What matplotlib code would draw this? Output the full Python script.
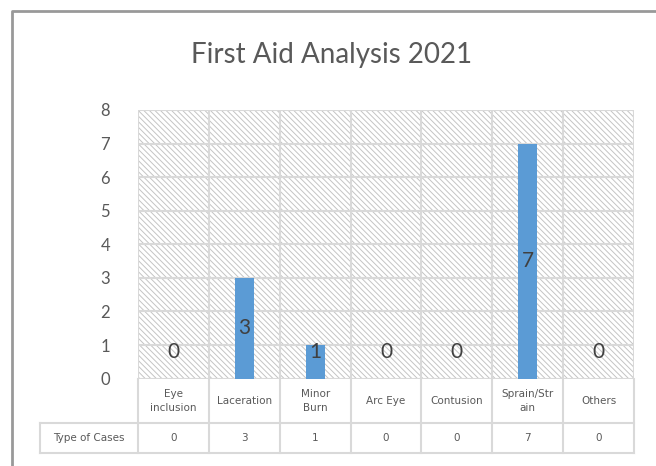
import matplotlib
matplotlib.use("Agg")
import matplotlib.pyplot as plt
from matplotlib.patches import Rectangle
from matplotlib.lines import Line2D
import matplotlib.transforms as mtransforms

title = "First Aid Analysis 2021"
categories = ["Eye\ninclusion", "Laceration", "Minor\nBurn", "Arc Eye", "Contusion", "Sprain/Str\nain", "Others"]
series_name = "Type of Cases"
values = [0, 3, 1, 0, 0, 7, 0]
yticks = [0, 1, 2, 3, 4, 5, 6, 7, 8]

W, H = 656, 466
fig = plt.figure(figsize=(W / 100, H / 100), dpi=100)
fig.patch.set_facecolor("white")

ax_l, ax_r, ax_t, ax_b = 138, 634, 110, 378.6
ax = fig.add_axes([ax_l / W, 1 - ax_b / H, (ax_r - ax_l) / W, (ax_b - ax_t) / H])

grid_c = "#d9d9d9"
text_c = "#595959"
font = "Lato"

n = len(categories)
x = list(range(n))
ax.set_xlim(-0.5, n - 0.5)
ax.set_ylim(0, 8)

# hatched background
plt.rcParams["hatch.linewidth"] = 0.7
bg = Rectangle((0, 0), 1, 1, transform=ax.transAxes, facecolor="white",
               edgecolor="#c4c4c4", hatch="\\\\\\\\\\\\", linewidth=0, zorder=0)
ax.add_patch(bg)

# gridlines
for yv in yticks:
    ax.axhline(yv, color=grid_c, linewidth=1.5, zorder=1)
for i in range(n + 1):
    ax.axvline(i - 0.5, color=grid_c, linewidth=1.5, zorder=1)

ax.bar(x, values, width=0.27, color="#5B9BD5", zorder=2)

for xi, v in zip(x, values):
    ax.text(xi, max(v / 2, 0.79), str(v), ha="center", va="center",
            fontsize=15, color="#404040", family=font, zorder=3)

for s in ax.spines.values():
    s.set_visible(False)
ax.set_xticks([])
ax.set_yticks(yticks)
ax.set_yticklabels([str(t) for t in yticks], fontsize=12, color=text_c, family=font)
ax.tick_params(axis="y", length=0, pad=20)

# data table under the axis
trans = mtransforms.blended_transform_factory(ax.transData, ax.transAxes)
axh = ax_b - ax_t
y_head = -(423 - ax_b) / axh
y_bot = -(453 - ax_b) / axh
x_lab = -0.5 - (ax_l - 40) / ((ax_r - ax_l) / n)

def seg(xs, ys):
    ax.add_line(Line2D(xs, ys, transform=trans, color=grid_c, linewidth=1.5, clip_on=False))

for i in range(n + 1):
    seg([i - 0.5, i - 0.5], [0, y_bot])
seg([x_lab, x_lab], [y_head, y_bot])
seg([x_lab, n - 0.5], [y_head, y_head])
seg([x_lab, n - 0.5], [y_bot, y_bot])

for xi, c, v in zip(x, categories, values):
    ax.text(xi, y_head / 2, c, transform=trans, ha="center", va="center",
            fontsize=7.5, color=text_c, family="DejaVu Sans", linespacing=1.5)
    ax.text(xi, (y_head + y_bot) / 2, str(v), transform=trans, ha="center", va="center",
            fontsize=7.5, color=text_c, family="DejaVu Sans")
ax.text((x_lab - 0.5) / 2, (y_head + y_bot) / 2, series_name, transform=trans,
        ha="center", va="center", fontsize=7.5, color=text_c, family="DejaVu Sans")

fig.text(332 / W, 1 - 55 / H, title, ha="center", va="center", fontsize=20,
         color=text_c, family=font)

# outer chart frame
fig.add_artist(Line2D([12 / W, 12 / W, 1], [0, 1 - 10.5 / H, 1 - 10.5 / H],
                      transform=fig.transFigure, color="#999999", linewidth=2))

fig.savefig("out.png", dpi=100)
